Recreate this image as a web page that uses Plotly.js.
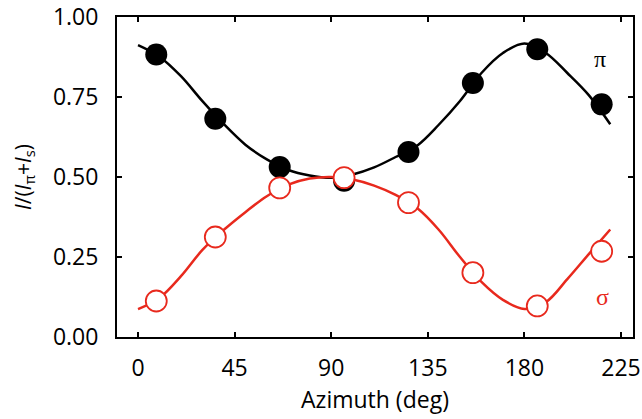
<!DOCTYPE html>
<html>
<head>
<meta charset="utf-8">
<script src="https://cdn.plot.ly/plotly-3.0.1.min.js"></script>
<style>html,body{margin:0;padding:0;background:#fff;}#chart{width:642px;height:419px;}</style>
</head>
<body>
<div id="chart"></div>
<script>
// Measured data points
const azimuth = [8.5, 36, 66, 96, 126, 156, 186, 216];
const piValues = [0.883, 0.682, 0.531, 0.488, 0.578, 0.794, 0.899, 0.727];
const sigmaValues = [0.1125, 0.3125, 0.466, 0.498, 0.42, 0.201, 0.097, 0.268];

// Fitted curves
const fitAzimuth = [0, 10, 20, 30, 40, 50, 60, 70, 80, 90, 100, 110, 120, 130, 140, 150, 160, 170, 180, 190, 200, 210, 220];
const piFit = [0.912, 0.876, 0.815, 0.737, 0.665, 0.601, 0.555, 0.522, 0.505, 0.498, 0.508, 0.53, 0.5625, 0.598, 0.6625, 0.7375, 0.825, 0.8875, 0.917, 0.8875, 0.825, 0.756, 0.665];
const sigmaFit = [0.087, 0.122, 0.19, 0.272, 0.335, 0.39, 0.44, 0.476, 0.495, 0.5, 0.492, 0.473, 0.444, 0.403, 0.336, 0.25, 0.172, 0.116, 0.0875, 0.109, 0.181, 0.259, 0.336];

const xTicks = [0, 45, 90, 135, 180, 225];
const yTicks = [0, 0.25, 0.5, 0.75, 1.0];
const yTickLabels = ['0.00', '0.25', '0.50', '0.75', '1.00'];

const RED = '#e8291d';
const FONT = 'Open Sans, sans-serif';

const traces = [
  {x: fitAzimuth, y: piFit, mode: 'lines', line: {color: '#000', width: 2.5, shape: 'spline', smoothing: 1}, hoverinfo: 'skip'},
  {x: azimuth, y: piValues, mode: 'markers', marker: {color: '#000', size: 22, line: {width: 0}}},
  {x: fitAzimuth, y: sigmaFit, mode: 'lines', line: {color: RED, width: 2.5, shape: 'spline', smoothing: 1}, hoverinfo: 'skip'},
  {x: azimuth, y: sigmaValues, mode: 'markers', marker: {color: '#fff', size: 21, line: {color: RED, width: 1.8}}}
];

const layout = {
  width: 642, height: 419,
  margin: {l: 117, r: 9, t: 17, b: 82},
  paper_bgcolor: '#fff', plot_bgcolor: '#fff',
  showlegend: false,
  font: {family: FONT, size: 23, color: '#000'},
  xaxis: {
    range: [-9.8, 230.6], tickvals: xTicks, ticks: 'inside', ticklen: 5, tickwidth: 2,
    tickcolor: '#000', showline: true, linecolor: '#000', linewidth: 2, mirror: 'ticks',
    showgrid: false, zeroline: false, ticklabelstandoff: 9,
    tickfont: {family: FONT, size: 23},
    title: {text: 'Azimuth (deg)', font: {family: FONT, size: 23}, standoff: 6}
  },
  yaxis: {
    range: [0, 1], tickvals: yTicks, ticktext: yTickLabels, ticks: 'inside', ticklen: 5, tickwidth: 2,
    tickcolor: '#000', showline: true, linecolor: '#000', linewidth: 2, mirror: 'ticks',
    showgrid: false, zeroline: false, ticklabelstandoff: 12,
    tickfont: {family: FONT, size: 23},
    title: {text: '<i>I</i>/(<i>I</i><sub>π</sub>+<i>I</i><sub>s</sub>)', font: {family: FONT, size: 21}, standoff: 16}
  },
  annotations: [
    {x: 215.2, y: 0.87, xref: 'x', yref: 'y', text: 'π', showarrow: false, font: {family: 'Liberation Serif, serif', size: 24, color: '#000'}},
    {x: 216.6, y: 0.125, xref: 'x', yref: 'y', text: 'σ', showarrow: false, font: {family: 'Liberation Serif, serif', size: 24, color: RED}}
  ]
};

Plotly.newPlot('chart', traces, layout, {staticPlot: true, displayModeBar: false});
</script>
</body>
</html>
